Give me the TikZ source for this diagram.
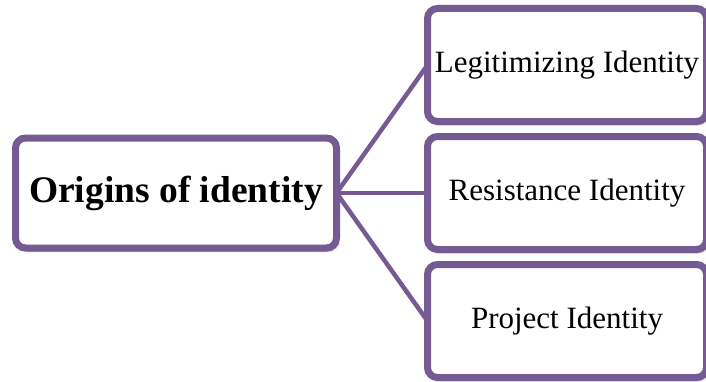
\documentclass[tikz,border=0pt]{standalone}
\usepackage{fontspec}
\setmainfont{Liberation Serif}
\usepackage{tikz}
\usetikzlibrary{positioning, shadows.blur}
\definecolor{boxPurple}{RGB}{118, 90, 148}

\begin{document}
\begin{tikzpicture}[x=1pt, y=1pt,
    framebox/.style={draw=boxPurple, line width=7pt, rounded corners=10pt, fill=white,
      outer sep=0pt, inner sep=0pt,
      blur shadow={shadow xshift=2pt, shadow yshift=-3pt, shadow blur steps=6, shadow opacity=40}},
    origin/.style={framebox, minimum width=321pt, minimum height=110pt,
      font=\fontsize{37.5}{40}\selectfont\bfseries},
    idbox/.style={framebox, minimum width=279pt, minimum height=113pt,
      font=\fontsize{31}{34}\selectfont},
    link/.style={boxPurple, line width=4.5pt}]
  \useasboundingbox (0,0) rectangle (706,381);
  \node[origin] (orig) at (176,188) {Origins of identity};
  \node[idbox] (legit) at (567,316) {Legitimizing Identity};
  \node[idbox] (resist) at (567,188) {Resistance Identity};
  \node[idbox] (proj) at (567,60) {Project Identity};
  \begin{scope}[on background layer/.try]
    \draw[link] (orig.east) -- (legit.west);
    \draw[link] (orig.east) -- (resist.west);
    \draw[link] (orig.east) -- (proj.west);
  \end{scope}
\end{tikzpicture}
\end{document}
